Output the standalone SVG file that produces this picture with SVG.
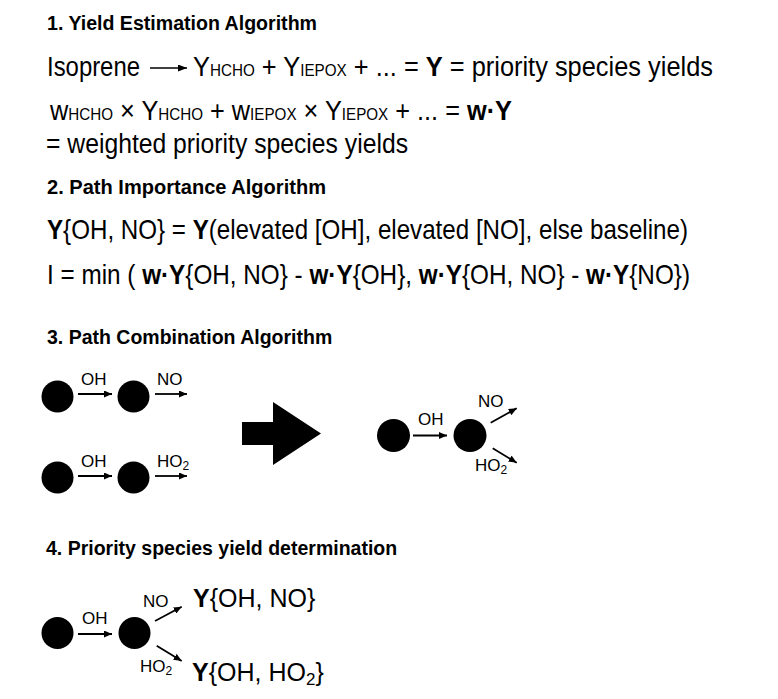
<svg xmlns="http://www.w3.org/2000/svg" width="778" height="699" viewBox="0 0 778 699">
<style>
text{font-family:"Liberation Sans",Arial,Helvetica,sans-serif;fill:#000}
.h{font-weight:bold;font-size:19.5px}
.m{font-size:27.5px}
.s{font-size:16.5px}
.b{font-weight:bold}
.lbl{font-size:17px}
.sub{font-size:12px}
.big{font-size:25px}
.node{fill:#000}
.arr{stroke:#000;stroke-width:1.8;fill:none;marker-end:url(#ah)}
.arrl{stroke:#000;stroke-width:1.4;fill:none;marker-end:url(#ahl)}
</style>
<defs>
<marker id="ah" markerUnits="userSpaceOnUse" markerWidth="8" markerHeight="7" refX="8" refY="3.5" orient="auto"><path d="M0,0 L8,3.5 L0,7 z" fill="#000"/></marker>
<marker id="ahl" markerUnits="userSpaceOnUse" markerWidth="9" markerHeight="7" refX="9" refY="3.5" orient="auto"><path d="M0,0 L9,3.5 L0,7 z" fill="#000"/></marker>
</defs>
<rect width="778" height="699" fill="#fff"/>

<g id="section1">
<text class="h" x="47" y="30" textLength="270" lengthAdjust="spacingAndGlyphs">1. Yield Estimation Algorithm</text>
<text class="m" x="47" y="75.5" textLength="93" lengthAdjust="spacingAndGlyphs">Isoprene</text>
<line class="arrl" x1="150" y1="68" x2="187" y2="68"/>
<text class="m" x="193" y="75.5" textLength="520" lengthAdjust="spacingAndGlyphs">Y<tspan class="s">HCHO</tspan> + Y<tspan class="s">IEPOX</tspan> + ... = <tspan class="b">Y</tspan> = priority species yields</text>
<text class="m" x="50" y="120" textLength="462" lengthAdjust="spacingAndGlyphs">w<tspan class="s">HCHO</tspan> × Y<tspan class="s">HCHO</tspan> + w<tspan class="s">IEPOX</tspan> × Y<tspan class="s">IEPOX</tspan> + ... = <tspan class="b">w·Y</tspan></text>
<text class="m" x="46" y="152.5" textLength="362" lengthAdjust="spacingAndGlyphs">= weighted priority species yields</text>
</g>

<g id="section2">
<text class="h" x="47" y="194" textLength="279" lengthAdjust="spacingAndGlyphs">2. Path Importance Algorithm</text>
<text class="m" x="47" y="239" textLength="641" lengthAdjust="spacingAndGlyphs"><tspan class="b">Y</tspan>{OH, NO} = <tspan class="b">Y</tspan>(elevated [OH], elevated [NO], else baseline)</text>
<text class="m" x="47" y="284" textLength="643" lengthAdjust="spacingAndGlyphs">I = min ( <tspan class="b">w·Y</tspan>{OH, NO} - <tspan class="b">w·Y</tspan>{OH}, <tspan class="b">w·Y</tspan>{OH, NO} - <tspan class="b">w·Y</tspan>{NO})</text>
</g>

<g id="section3">
<text class="h" x="47" y="344">3. Path Combination Algorithm</text>
<g id="s3-r1-a"><circle class="node" cx="57.5" cy="396.5" r="16"/></g>
<g id="s3-r1-b"><circle class="node" cx="133.5" cy="396.5" r="16"/></g>
<g id="s3-r2-a"><circle class="node" cx="57.5" cy="477.5" r="16"/></g>
<g id="s3-r2-b"><circle class="node" cx="133.5" cy="477.5" r="16"/></g>
<g id="s3-combine"><polygon points="242,422 273,422 273,402 321,433.5 273,465 273,445 242,445" fill="#000"/></g>
<g id="s3-res-a"><circle class="node" cx="393.5" cy="435.5" r="16.5"/></g>
<g id="s3-res-b"><circle class="node" cx="470" cy="435.5" r="16.5"/></g>
</g>

<g id="section4">
<text class="h" x="46" y="555">4. Priority species yield determination</text>
<g id="s4-a"><circle class="node" cx="57.5" cy="633" r="16"/></g>
<g id="s4-b"><circle class="node" cx="134.5" cy="633" r="16"/></g>
<g id="s4-y1"><text class="big" x="193" y="607"><tspan class="b">Y</tspan>{OH, NO}</text></g>
<g id="s4-y2"><text class="big" x="192" y="681"><tspan class="b">Y</tspan>{OH, HO<tspan font-size="17px" dy="4">2</tspan><tspan dy="-4">}</tspan></text></g>
</g>

<g id="connectors">
<line class="arr" x1="78" y1="394" x2="112" y2="394"/>
<text class="lbl" x="81" y="385">OH</text>
<line class="arr" x1="155" y1="394" x2="187" y2="394"/>
<text class="lbl" x="157" y="385">NO</text>
<line class="arr" x1="78" y1="476" x2="112" y2="476"/>
<text class="lbl" x="81" y="466.5">OH</text>
<line class="arr" x1="155" y1="476" x2="187" y2="476"/>
<text class="lbl" x="157" y="466.5">HO<tspan class="sub" dy="3">2</tspan></text>

<line class="arr" x1="413" y1="435.5" x2="447" y2="435.5"/>
<text class="lbl" x="418" y="425">OH</text>
<line class="arr" x1="490.7" y1="422.7" x2="516.7" y2="408.3"/>
<text class="lbl" x="478" y="407">NO</text>
<line class="arr" x1="492.7" y1="448.3" x2="516.7" y2="462.7"/>
<text class="lbl" x="475" y="471">HO<tspan class="sub" dy="3">2</tspan></text>

<line class="arr" x1="78" y1="634" x2="112" y2="634"/>
<text class="lbl" x="82" y="624">OH</text>
<line class="arr" x1="155" y1="621" x2="181.7" y2="606.7"/>
<text class="lbl" x="143" y="606.7">NO</text>
<line class="arr" x1="156.7" y1="645.7" x2="181.7" y2="661"/>
<text class="lbl" x="140" y="671.7">HO<tspan class="sub" dy="3">2</tspan></text>
</g>
</svg>
